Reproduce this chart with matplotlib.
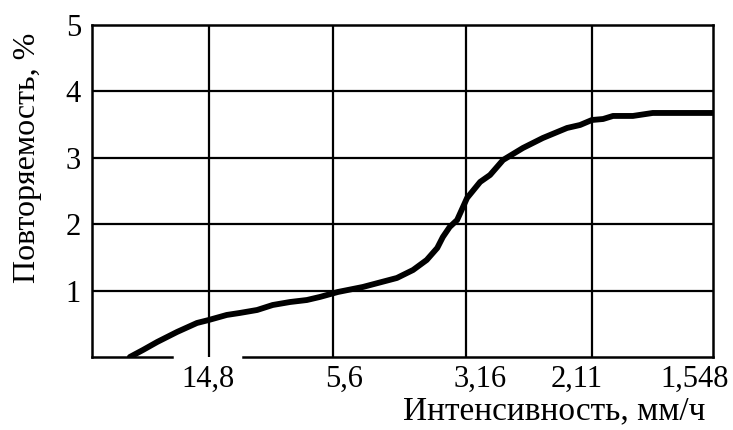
import matplotlib
matplotlib.use("Agg")
from matplotlib import pyplot as plt
import numpy as np

# x in percent of the plot width (the original axis is not a true numeric scale)
x_curve = [6.1, 8.2, 10.5, 13.7, 16.9, 18.8, 21.7, 23.8, 26.6, 29.1, 31.9, 34.6,
           36.7, 39.6, 43.6, 49.1, 51.7, 53.9, 55.6, 56.5, 57.6, 58.8, 60.4, 62.5,
           64.1, 66.2, 69.4, 72.6, 76.5, 78.6, 80.5, 82.3, 83.9, 87.1, 90.3, 100.0]
y_curve = [0.0, 0.105, 0.226, 0.377, 0.512, 0.557, 0.633, 0.663, 0.708, 0.783, 0.828, 0.858,
           0.904, 0.979, 1.054, 1.19, 1.31, 1.461, 1.642, 1.807, 1.958, 2.063, 2.395, 2.636,
           2.741, 2.967, 3.148, 3.298, 3.449, 3.494, 3.569, 3.584, 3.63, 3.63, 3.675, 3.675]

grid_x = [18.8, 38.8, 60.2, 80.5]
grid_y = [1, 2, 3, 4]
tick_pos = [18.7, 40.6, 62.5, 78.1, 97.1]
tick_labels = ["14,8", "5,6", "3,16", "2,11", "1,548"]
y_ticks = [1, 2, 3, 4, 5]

plt.rcParams['font.family'] = ['Liberation Serif', 'DejaVu Serif']

fig = plt.figure(figsize=(7.33, 4.30), dpi=100)
ax = fig.add_axes([0.1255, 0.1698, 0.8472, 0.7721])

for gx in grid_x:
    ax.axvline(gx, color="black", lw=1.6, zorder=1)
for gy in grid_y:
    ax.axhline(gy, color="black", lw=1.6, zorder=1)

ax.plot(x_curve, y_curve, color="black", lw=4.2, solid_capstyle="round", zorder=3)

ax.set_xlim(0, 100)
ax.set_ylim(0, 5)

for side in ["top", "left", "right"]:
    ax.spines[side].set_linewidth(1.8)
# bottom line is broken under the first label in the original
ax.spines["bottom"].set_visible(False)
ax.plot([0, 12.9], [0, 0], color="black", lw=1.8, clip_on=False, zorder=4)
ax.plot([24.3, 100], [0, 0], color="black", lw=1.8, clip_on=False, zorder=4)

ax.set_xticks(tick_pos)
ax.set_xticklabels(tick_labels)
ax.set_yticks(y_ticks)
ax.tick_params(axis="both", length=0, labelsize=22)
ax.tick_params(axis="x", pad=6)
ax.tick_params(axis="y", pad=8)

ax.set_xlabel("Интенсивность, мм/ч", fontsize=24)
ax.xaxis.set_label_coords(0.744, -0.117)
ax.set_ylabel("Повторяемость, %", fontsize=23)
ax.yaxis.set_label_coords(-0.08, 0.6)

fig.savefig("out.png", dpi=100)
